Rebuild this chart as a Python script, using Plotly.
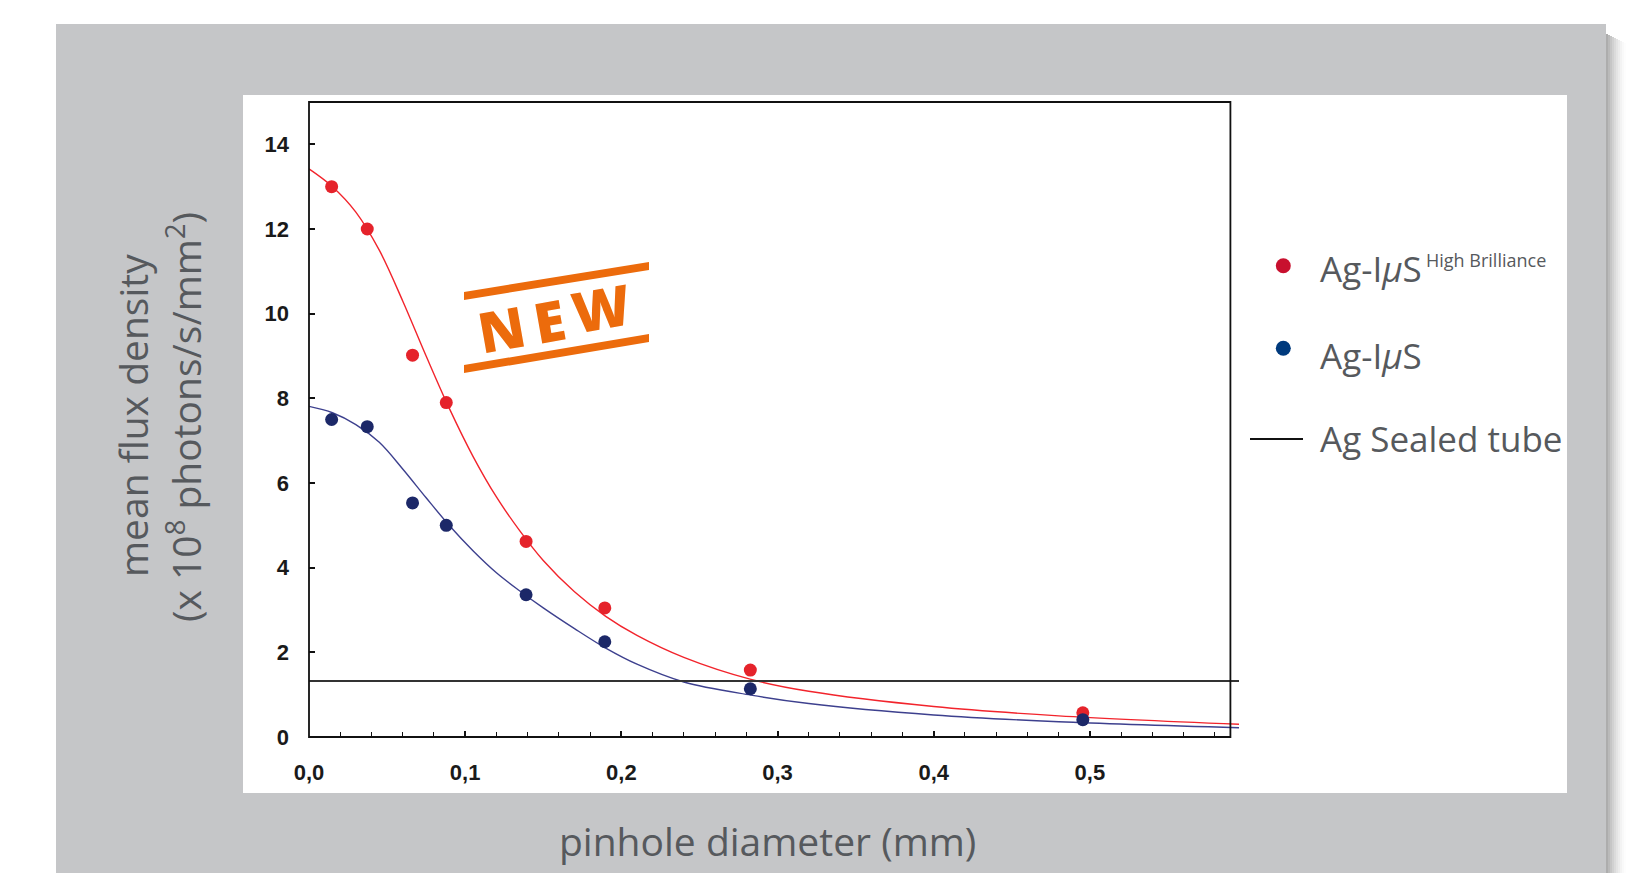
import plotly.graph_objects as go

# ---------------- data ----------------
pinhole_mm = [0.0145, 0.0373, 0.0663, 0.0879, 0.139, 0.1894, 0.2826, 0.4955]
flux_high_brilliance = [13.0, 12.0, 9.02, 7.9, 4.62, 3.05, 1.58, 0.57]
flux_ius = [7.5, 7.33, 5.53, 5.0, 3.36, 2.25, 1.14, 0.41]

fit_x = [0.0, 0.015, 0.03, 0.045, 0.06, 0.075, 0.09, 0.105, 0.12, 0.135, 0.15,
         0.17, 0.19, 0.21, 0.24, 0.283, 0.32, 0.40, 0.48, 0.5955]
fit_hb_y = [13.42, 13.00, 12.40, 11.50, 10.30, 9.00, 7.75, 6.63, 5.67, 4.87, 4.17,
            3.43, 2.85, 2.40, 1.88, 1.36, 1.08, 0.72, 0.50, 0.30]
fit_ius_y = [7.81, 7.66, 7.38, 6.96, 6.33, 5.65, 4.99, 4.40, 3.88, 3.45, 3.05,
             2.56, 2.10, 1.72, 1.30, 0.99, 0.79, 0.52, 0.36, 0.22]

sealed_tube_flux = 1.32

x_axis_max = 0.5955
frame_x_max = 0.59
y_axis_max = 15
x_tick_vals = [0.0, 0.1, 0.2, 0.3, 0.4, 0.5]
x_tick_text = ["0,0", "0,1", "0,2", "0,3", "0,4", "0,5"]
y_tick_vals = [0, 2, 4, 6, 8, 10, 12, 14]
y_tick_text = ["0", "2", "4", "6", "8", "10", "12", "14"]

legend_labels = ["Ag-I<i>μ</i>S", "High Brilliance", "Ag-I<i>μ</i>S", "Ag Sealed tube"]
x_title = "pinhole diameter (mm)"
y_title_1 = "mean flux density"
y_title_2 = "(x 10<sup>8</sup> photons/s/mm<sup>2</sup>)"
stamp_letters = ["N", "E", "W"]

# ---------------- layout helpers ----------------
# the page body adds an 8px offset; positions below are measured on the page
OFF = 8
W, H = 1645 - OFF, 873 - OFF
ML, MT = 309 - OFF, 102 - OFF
MR = W - (1239 - OFF)
MB = H - (737 - OFF)
PW = W - ML - MR
PH = H - MT - MB


def px(x):
    return (x - OFF - ML) / PW


def py(y):
    return (H - MB - (y - OFF)) / PH


TXT = "#56595d"
RED_PT = "#e5232b"
BLUE_PT = "#1c2868"

fig = go.Figure()

fig.add_trace(go.Scatter(x=fit_x, y=fit_hb_y, mode="lines",
                         line=dict(color="#f2242c", width=1.4, shape="spline", smoothing=1.0),
                         showlegend=False, hoverinfo="skip"))
fig.add_trace(go.Scatter(x=fit_x, y=fit_ius_y, mode="lines",
                         line=dict(color="#3d408e", width=1.4, shape="spline", smoothing=1.0),
                         showlegend=False, hoverinfo="skip"))
fig.add_trace(go.Scatter(x=[0, x_axis_max], y=[sealed_tube_flux, sealed_tube_flux], mode="lines",
                         line=dict(color="#333333", width=2), name="Ag Sealed tube",
                         showlegend=False))
fig.add_trace(go.Scatter(x=pinhole_mm, y=flux_high_brilliance, mode="markers",
                         marker=dict(color=RED_PT, size=13, line=dict(width=0)),
                         name="Ag-IμS High Brilliance", showlegend=False))
fig.add_trace(go.Scatter(x=pinhole_mm, y=flux_ius, mode="markers",
                         marker=dict(color=BLUE_PT, size=13, line=dict(width=0)),
                         name="Ag-IμS", showlegend=False))

shapes = []
# grey panel + shadow
for i in range(10):
    a = 0.32 * (1 - i / 10) ** 1.6
    shapes.append(dict(type="rect", xref="paper", yref="paper",
                       x0=px(1606 + 2 * i), x1=px(1608 + 2 * i), y0=py(34 + i), y1=py(890),
                       fillcolor=f"rgba(0,0,0,{a:.3f})", line=dict(width=0), layer="below"))
shapes.append(dict(type="rect", xref="paper", yref="paper",
                   x0=px(56), x1=px(1606), y0=py(24), y1=py(890),
                   fillcolor="#c5c6c8", line=dict(width=0), layer="below"))
shapes.append(dict(type="rect", xref="paper", yref="paper",
                   x0=px(243), x1=px(1567), y0=py(95), y1=py(793),
                   fillcolor="#ffffff", line=dict(width=0), layer="below"))
# plot frame
shapes.append(dict(type="rect", xref="paper", yref="paper",
                   x0=0, x1=frame_x_max / x_axis_max, y0=0, y1=1,
                   line=dict(color="#111111", width=1.8), layer="above"))
# legend symbols
for cy, col in [(265.7, "#c8102e"), (348.3, "#003a7d")]:
    shapes.append(dict(type="circle", xref="paper", yref="paper",
                       x0=px(1283.3 - 7.5), x1=px(1283.3 + 7.5),
                       y0=py(cy - 7.5), y1=py(cy + 7.5),
                       fillcolor=col, line=dict(width=0)))
shapes.append(dict(type="line", xref="paper", yref="paper",
                   x0=px(1250), x1=px(1303), y0=py(439), y1=py(439),
                   line=dict(color="#111111", width=2)))
# NEW stamp bands
ORANGE = "#ec6b0c"
for (xl, yl_top, xr, yr_top) in [(464, 292, 649, 262), (464, 365, 649, 334)]:
    t = 8
    path = (f"M {px(xl)} {py(yl_top)} L {px(xr)} {py(yr_top)} "
            f"L {px(xr)} {py(yr_top + t)} L {px(xl)} {py(yl_top + t)} Z")
    shapes.append(dict(type="path", xref="paper", yref="paper", path=path,
                       fillcolor=ORANGE, line=dict(width=0)))

annotations = [
    dict(x=px(1318), y=py(268), xref="paper", yref="paper", text=legend_labels[0],
         xanchor="left", yanchor="middle", showarrow=False,
         font=dict(family="Open Sans", size=35, color=TXT)),
    dict(x=px(1424), y=py(260), xref="paper", yref="paper", text=legend_labels[1],
         xanchor="left", yanchor="middle", showarrow=False,
         font=dict(family="Open Sans", size=18, color=TXT)),
    dict(x=px(1318), y=py(355), xref="paper", yref="paper", text=legend_labels[2],
         xanchor="left", yanchor="middle", showarrow=False,
         font=dict(family="Open Sans", size=35, color=TXT)),
    dict(x=px(1318), y=py(438), xref="paper", yref="paper", text=legend_labels[3],
         xanchor="left", yanchor="middle", showarrow=False,
         font=dict(family="Open Sans", size=35, color=TXT)),
    dict(x=px(767), y=py(841), xref="paper", yref="paper", text=x_title,
         xanchor="center", yanchor="middle", showarrow=False,
         font=dict(family="Open Sans", size=39, color=TXT)),
    dict(x=px(132), y=py(416), xref="paper", yref="paper", text=y_title_1,
         xanchor="center", yanchor="middle", showarrow=False, textangle=-90,
         font=dict(family="Open Sans", size=39, color=TXT)),
    dict(x=px(184), y=py(417), xref="paper", yref="paper", text=y_title_2,
         xanchor="center", yanchor="middle", showarrow=False, textangle=-90,
         font=dict(family="Open Sans", size=39, color=TXT)),
]
for letter, (lx, ly) in zip(stamp_letters, [(501, 328), (549, 320), (601, 307)]):
    annotations.append(dict(x=px(lx), y=py(ly), xref="paper", yref="paper", text=letter,
                            xanchor="center", yanchor="middle", showarrow=False,
                            textangle=-10,
                            font=dict(family="Open Sans", size=56, color=ORANGE, weight=800)))

tickfont = dict(family="Liberation Sans, Arial", size=22, color="#1a1a1a", weight="bold")

fig.update_layout(
    width=W, height=H,
    margin=dict(l=ML, r=MR, t=MT, b=MB, pad=0),
    paper_bgcolor="#ffffff",
    plot_bgcolor="rgba(0,0,0,0)",
    shapes=shapes,
    annotations=annotations,
    xaxis=dict(range=[0, x_axis_max], showgrid=False, zeroline=False, showline=False,
               tickvals=x_tick_vals, ticktext=x_tick_text, ticks="inside", ticklen=6,
               tickwidth=1.5, tickcolor="#111111", tickfont=tickfont, ticklabelstandoff=20,
               minor=dict(dtick=0.02, tick0=0, ticks="inside", ticklen=5, tickwidth=1.3,
                          tickcolor="#111111", showgrid=False)),
    yaxis=dict(range=[0, y_axis_max], showgrid=False, zeroline=False, showline=False,
               tickvals=y_tick_vals, ticktext=y_tick_text, ticks="inside", ticklen=6,
               tickwidth=1.5, tickcolor="#111111", tickfont=tickfont, ticklabelstandoff=19),
)

fig.write_html("out.html")
